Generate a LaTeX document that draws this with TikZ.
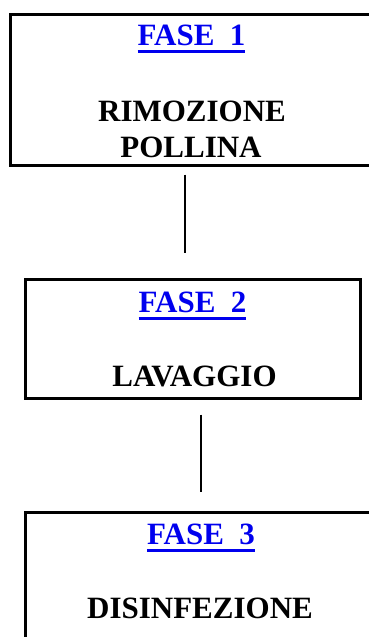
\documentclass[tikz,border=0pt]{standalone}
\usepackage{fontspec}
\setmainfont{Liberation Serif}
\definecolor{linkblue}{RGB}{0,0,238}
\newcommand\faseul[1]{\setbox0\hbox{#1}\rlap{\color{linkblue}\vrule height -4.5pt depth 8pt width \wd0}\box0}
\tikzset{
  phasebox/.style={draw=black, line width=3pt, rectangle, inner sep=0pt},
  phasetitle/.style={anchor=base, inner sep=0pt, text=linkblue, font=\bfseries\fontsize{31}{36}\selectfont},
  phasename/.style={anchor=base, inner sep=0pt, text=black, align=center, font=\bfseries\fontsize{31}{36}\selectfont},
  link/.style={draw=black, line width=1.8pt}
}
\begin{document}
\begin{tikzpicture}[x=1pt,y=1pt]
\useasboundingbox (0,0) rectangle (369,-637);
\clip (0,0) rectangle (369,-637);
% boxes
\node[phasebox, minimum width=364pt, minimum height=151pt] (b1) at (192.5,-89.5) {};
\node[phasebox, minimum width=335pt, minimum height=119pt] (b2) at (192.5,-338.5) {};
\node[phasebox, minimum width=352pt, minimum height=140pt] (b3) at (201,-582) {};
% texts
\node[phasetitle] (t1) at (191.5,-45) {\faseul{FASE\ \ 1}};
\node[phasename] (n1a) at (192,-121) {RIMOZIONE};
\node[phasename] (n1b) at (191,-157) {POLLINA};
\node[phasetitle] (t2) at (192.5,-312) {\faseul{FASE\ \ 2}};
\node[phasename] (n2) at (194.5,-386) {LAVAGGIO};
\node[phasetitle] (t3) at (201,-544) {\faseul{FASE\ \ 3}};
\node[phasename] (n3) at (200,-618) {DISINFEZIONE};
% connectors
\coordinate (c1a) at ([yshift=-8pt]b1.south -| 185,0);
\coordinate (c1b) at ([yshift=25pt]b2.north -| 185,0);
\coordinate (c2a) at ([yshift=-15pt]b2.south -| 201,0);
\coordinate (c2b) at ([yshift=19pt]b3.north -| 201,0);
\draw[link] (c1a) -- (c1b);
\draw[link] (c2a) -- (c2b);
\end{tikzpicture}
\end{document}
